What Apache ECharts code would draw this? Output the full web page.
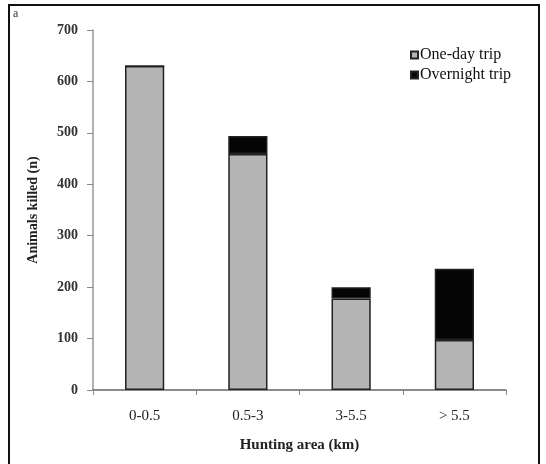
<!DOCTYPE html>
<html><head><meta charset="utf-8">
<script src="https://cdn.jsdelivr.net/npm/echarts@6/dist/echarts.min.js"></script>
<style>html,body{margin:0;padding:0;background:#fff}#c{width:546px;height:464px}</style>
</head><body><div id="c"></div>
<script>
const categories = ['0-0.5', '0.5-3', '3-5.5', '> 5.5'];
const oneDayTrip = [630, 459, 178, 97];
const overnightTrip = [0, 35, 22, 139];
const yTicks = [0, 100, 200, 300, 400, 500, 600, 700];

const chart = echarts.init(document.getElementById('c'));
const font = 'Liberation Serif';
chart.setOption({
  animation: false,
  backgroundColor: '#fff',
  grid: {left: 93, right: 40, top: 30, bottom: 74},
  legend: {
    orient: 'vertical', left: 405, top: 42, itemWidth: 7, itemHeight: 7, itemGap: 4,
    icon: 'rect',
    textStyle: {fontFamily: font, fontSize: 16, color: '#111', padding: [0,0,0,-3]},
    data: ['One-day trip', 'Overnight trip']
  },
  xAxis: {
    type: 'category', data: categories,
    name: 'Hunting area (km)', nameLocation: 'middle', nameGap: 48,
    nameTextStyle: {fontFamily: font, fontSize: 15, fontWeight: 'bold', color: '#222'},
    axisLine: {lineStyle: {color: '#666', width: 1.5}},
    axisTick: {show: true, alignWithLabel: false, length: 5, lineStyle: {color: '#888'}},
    axisLabel: {fontFamily: font, fontSize: 15, color: '#222', margin: 19}
  },
  yAxis: {
    type: 'value', min: yTicks[0], max: yTicks[yTicks.length - 1], interval: 100,
    name: 'Animals killed (n)', nameLocation: 'middle', nameGap: 53,
    nameTextStyle: {fontFamily: font, fontSize: 14, fontWeight: 'bold', color: '#222'},
    axisLine: {show: true, lineStyle: {color: '#999', width: 1.5}},
    axisTick: {show: true, length: 6, lineStyle: {color: '#888'}},
    splitLine: {show: false},
    axisLabel: {fontFamily: font, fontSize: 14, fontWeight: 'bold', color: '#333', margin: 15}
  },
  series: [
    {name: 'One-day trip', type: 'bar', stack: 'a', data: oneDayTrip, barWidth: '38%',
     itemStyle: {color: '#b4b4b4', borderColor: '#222', borderWidth: 1.5}},
    {name: 'Overnight trip', type: 'bar', stack: 'a', data: overnightTrip, barWidth: '38%',
     itemStyle: {color: '#050505', borderColor: '#222', borderWidth: 1.5}}
  ],
  graphic: [
    {type: 'rect', shape: {x: 9, y: 5, width: 530, height: 470}, style: {fill: null, stroke: '#111', lineWidth: 2}, z: 100},
    {type: 'text', left: 13, top: 8, style: {text: 'a', font: '12px Liberation Serif', fill: '#333'}}
  ]
});
</script></body></html>
